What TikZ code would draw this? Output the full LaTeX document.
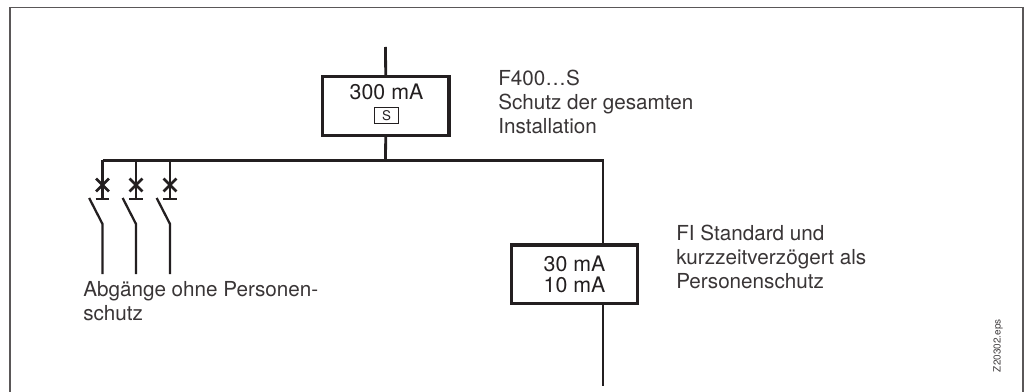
\documentclass[tikz,border=0pt]{standalone}
\usepackage{fontspec}
\setmainfont{TeX Gyre Heros}
\definecolor{ink}{HTML}{231F20}
\tikzset{
  x=0.75pt,y=-0.75pt,
  frameline/.style={draw=ink!75,line width=1.1pt},
  wire/.style={draw=ink,line width=2.1pt},
  thinwire/.style={draw=ink,line width=1.7pt},
  rcd/.style={draw=ink,line width=2.4pt,fill=white,minimum width=95pt,minimum height=44pt,inner sep=0pt,align=center,text=ink,font=\fontsize{16}{15.75}\selectfont},
  sbox/.style={draw=ink,line width=0.8pt,inner sep=0pt,minimum width=18.6pt,minimum height=12.6pt,font=\fontsize{10}{10}\selectfont,text=ink},
  note/.style={anchor=north west,align=left,inner sep=0pt,text=ink!90,font=\fontsize{15.5}{18}\selectfont},
}
\newcommand{\breaker}[2]{%
  \coordinate (#2top) at (#1,160.5);
  \coordinate (#2x) at (#1,185);
  \coordinate (#2bar) at (#1,199);
  \coordinate (#2barl) at ([xshift=-5.2pt]#2bar);
  \coordinate (#2barr) at ([xshift=5.2pt]#2bar);
  \coordinate (#2a) at ([xshift=-4.8pt,yshift=4.8pt]#2x);
  \coordinate (#2b) at ([xshift=4.8pt,yshift=-4.8pt]#2x);
  \coordinate (#2c) at ([xshift=-4.8pt,yshift=-4.8pt]#2x);
  \coordinate (#2d) at ([xshift=4.8pt,yshift=4.8pt]#2x);
  \coordinate (#2blade) at ([xshift=-10pt]#1,198);
  \coordinate (#2hinge) at (#1,224);
  \coordinate (#2end) at (#1,274);
  \draw[wire] (#2top) -- (#2bar);
  \draw[wire] (#2a) -- (#2b);
  \draw[wire] (#2c) -- (#2d);
  \draw[wire] (#2barl) -- (#2barr);
  \draw[thinwire] (#2blade) -- (#2hinge) -- (#2end);
}
\begin{document}
\begin{tikzpicture}
\useasboundingbox (0,0) rectangle (1027,392);
\coordinate (fbl) at (10,392);
\coordinate (ftl) at (10,7.5);
\coordinate (ftr) at (1023,7.5);
\coordinate (fbr) at (1023,392);
\draw[frameline] (fbl) -- (ftl) -- (ftr) -- (fbr);

\node[rcd] (main) at (385.7,106.2) {};
\node[text=ink,font=\fontsize{16}{18}\selectfont,inner sep=0pt,anchor=base] (mainlabel) at (386.5,100) {300 mA};
\node[sbox] (s) at (386.5,115.5) {S};
\coordinate (in) at (385.5,47);
\coordinate (busl) at (102.5,160.5);
\coordinate (busm) at (385.5,160.5);
\coordinate (busr) at (603,160.5);
\coordinate (out) at (603,386);
\coordinate (rcdbin) at (603,245);
\coordinate (rcdbout) at (603,303.7);

\node[rcd] (rcdb) at (574.5,274.3) {30 mA\\10 mA};

\draw[wire] (in) -- (main.north);
\draw[wire] (main.south) -- (busm);
\draw[wire] (busl) -- (busr) -- (rcdbin);
\draw[wire] (rcdbout) -- (out);

\breaker{102.5}{p}
\breaker{136}{q}
\breaker{170}{r}

\node[note] (t1) at (498,69.3) {F400…S\\Schutz der gesamten\\Installation};
\node[note] (t2) at (676,225) {FI Standard und\\kurzzeitverzögert als\\Personenschutz};
\node[note] (t3) at (83,280.7) {Abgänge ohne Personen-\\schutz};
\node[rotate=90,inner sep=0pt,text=ink!85,font=\fontsize{7.5}{8}\selectfont] (id) at (998,345.7) {Z20302.eps};
\end{tikzpicture}
\end{document}
